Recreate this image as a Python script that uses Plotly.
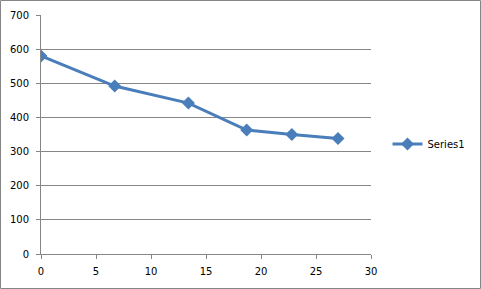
import plotly.graph_objects as go

x_values = [0, 6.7, 13.4, 18.7, 22.8, 27.0]
y_values = [580, 492, 442, 363, 350, 338]
series_name = "Series1"
x_ticks = [0, 5, 10, 15, 20, 25, 30]
y_ticks = [0, 100, 200, 300, 400, 500, 600, 700]

W, H = 481, 289
L, R, T, B = 41, 110, 15, 35
pw, ph = W - L - R, H - T - B

fig = go.Figure()
fig.add_trace(go.Scatter(
    x=x_values, y=y_values, mode="lines+markers", name=series_name,
    line=dict(color="#4A7EBB", width=3),
    marker=dict(symbol="diamond", size=10, color="#4A7EBB"),
))

font = dict(family="DejaVu Sans", size=10, color="#000000")
fig.update_layout(
    width=W, height=H,
    margin=dict(l=L, r=R, t=T, b=B, pad=0, autoexpand=False),
    paper_bgcolor="white", plot_bgcolor="white",
    font=font,
    showlegend=True,
    legend=dict(x=1.05, y=0.46, xanchor="left", yanchor="middle",
                font=dict(family="DejaVu Sans", size=10, color="#000"),
                bgcolor="rgba(0,0,0,0)", itemwidth=30),
    xaxis=dict(range=[0, 30], tickvals=x_ticks, showgrid=False, zeroline=False,
               showline=True, linecolor="#868686", linewidth=1,
               ticks="outside", ticklen=4, tickcolor="#868686", tickfont=font,
               ticklabelstandoff=4),
    yaxis=dict(range=[0, 700], tickvals=y_ticks, showgrid=True, gridcolor="#868686",
               gridwidth=1, zeroline=False, showline=True, linecolor="#868686",
               linewidth=1, ticks="outside", ticklen=4, tickcolor="#868686",
               tickfont=font, ticklabelstandoff=5),
)
fig.add_shape(type="rect", xref="paper", yref="paper",
              x0=(0.5 - L) / pw, x1=(W - 0.5 - L) / pw,
              y0=(H - B - (H - 0.5)) / ph, y1=(H - B - 0.5) / ph,
              line=dict(color="#868686", width=1), layer="below")
fig.write_html("out.html")
